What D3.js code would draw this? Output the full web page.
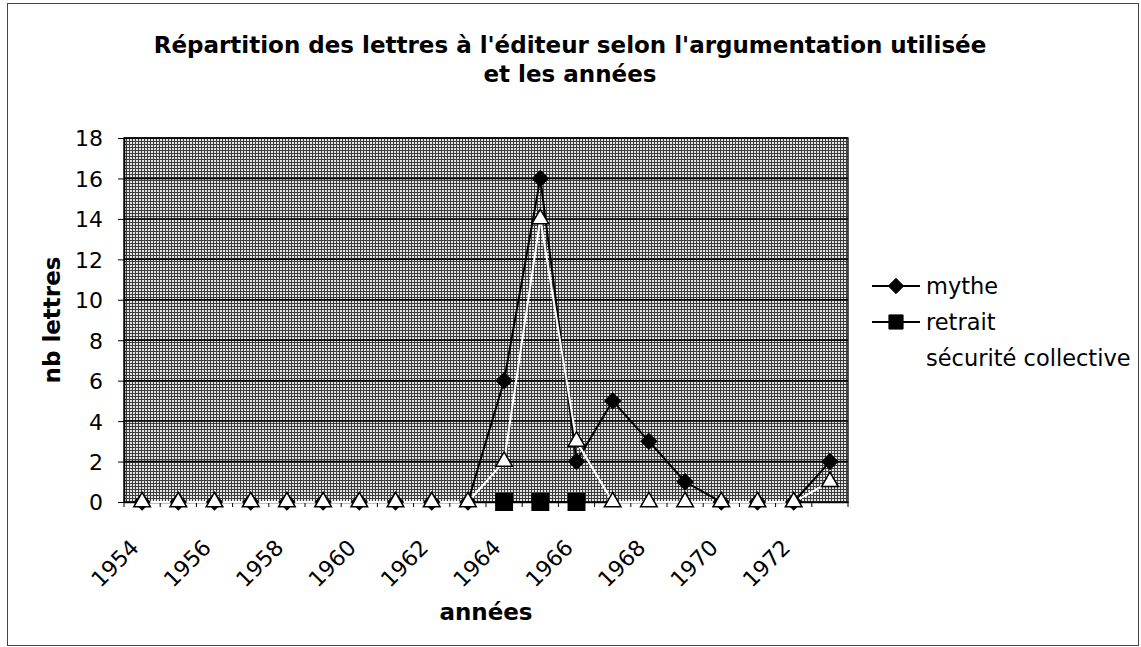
<!DOCTYPE html>
<html>
  <head>
    <meta charset="utf-8">
    <title>Répartition des lettres</title>
    <script src="https://d3js.org/d3.v7.min.js"></script>
    <style>
      body { margin: 0; background: #fff; }
      text { font-family: "DejaVu Sans", Verdana, sans-serif; fill: #000; }
      .title { font-weight: bold; font-size: 23px; }
      .axis-title { font-weight: bold; font-size: 23px; }
      .tick text { font-size: 22px; }
      .legend text { font-size: 22.5px; }
    </style>
  </head>
  <body>
    <script>
      // data
      var years = ["1954","1955","1956","1957","1958","1959","1960","1961","1962","1963",
                   "1964","1965","1966","1967","1968","1969","1970","1971","1972","1973"];
      var mythe   = [0,0,0,0,0,0,0,0,0,0, 6,16,2,5,3,1,0,0,0,2];
      var retrait = [null,null,null,null,null,null,null,null,null,null,
                     0,0,0,null,null,null,null,null,null,null];
      var securite = [0,0,0,0,0,0,0,0,0,0, 2,14,3,0,0,0,0,0,0,1];
      var yTicks = [0,2,4,6,8,10,12,14,16,18];
      var xLabels = ["1954","1956","1958","1960","1962","1964","1966","1968","1970","1972"];
      var seriesNames = ["mythe", "retrait", "sécurité collective"];

      var width = 1141, height = 647;
      var plot = {left: 124, right: 848, top: 138, bottom: 502};

      var svg = d3.select("body").append("svg")
          .attr("width", width)
          .attr("height", height);

      // halftone-like grey fill of the scanned plot area
      var pat = svg.append("defs").append("pattern")
        .attr("id", "dither")
        .attr("patternUnits", "userSpaceOnUse")
        .attr("width", 3).attr("height", 3);
      pat.append("rect").attr("width", 3).attr("height", 3).attr("fill", "#e4e4e4");
      pat.append("rect").attr("width", 3).attr("height", 1).attr("fill", "#3c3c3c");
      pat.append("rect").attr("width", 1).attr("height", 3).attr("fill", "#3c3c3c");

      // outer frame
      svg.append("rect")
        .attr("x", 7.5).attr("y", 3.5)
        .attr("width", 1131).attr("height", 642)
        .attr("fill", "none")
        .attr("stroke", "#444")
        .attr("stroke-width", 1);

      var x = d3.scaleBand().domain(years).range([plot.left, plot.right]).padding(0);
      var y = d3.scaleLinear().domain([0, 18]).range([plot.bottom, plot.top]);
      var cx = function(yr) { return x(yr) + x.bandwidth() / 2; };

      svg.append("rect")
        .attr("x", plot.left).attr("y", plot.top)
        .attr("width", plot.right - plot.left)
        .attr("height", plot.bottom - plot.top)
        .attr("fill", "url(#dither)")
        .attr("stroke", "#222")
        .attr("stroke-width", 1.5);

      // gridlines
      svg.append("g").selectAll("line")
        .data(yTicks.filter(function(d) { return d > 0; }))
        .enter().append("line")
        .attr("x1", plot.left).attr("x2", plot.right)
        .attr("y1", function(d) { return y(d); })
        .attr("y2", function(d) { return y(d); })
        .attr("stroke", "#000")
        .attr("stroke-width", 1.5);

      // y axis
      var yAxis = d3.axisLeft(y).tickValues(yTicks).tickSizeInner(6).tickSizeOuter(0).tickPadding(15);
      var gy = svg.append("g")
        .attr("transform", "translate(" + plot.left + ",0)")
        .call(yAxis);
      gy.select(".domain").attr("stroke", "#000").attr("stroke-width", 1.5);
      gy.selectAll(".tick line").attr("stroke", "#000");
      gy.selectAll(".tick text").attr("dy", "0.36em");

      // x axis
      var xAxis = d3.axisBottom(x).tickSize(0).tickFormat(function(d) {
        return xLabels.indexOf(d) >= 0 ? d : "";
      });
      var gx = svg.append("g")
        .attr("transform", "translate(0," + plot.bottom + ")")
        .call(xAxis);
      gx.select(".domain").attr("stroke", "#000").attr("stroke-width", 1.5);
      gx.selectAll(".tick text")
        .attr("text-anchor", "end")
        .attr("x", 0).attr("y", 0).attr("dy", 0)
        .attr("transform", "translate(-2,47) rotate(-45)");

      // small tick marks between categories
      svg.append("g").selectAll("line")
        .data(years.concat(["end"]))
        .enter().append("line")
        .attr("x1", function(d, i) { return plot.left + i * x.bandwidth(); })
        .attr("x2", function(d, i) { return plot.left + i * x.bandwidth(); })
        .attr("y1", plot.bottom).attr("y2", plot.bottom + 5)
        .attr("stroke", "#000");

      // lines
      function lineFor(values) {
        return d3.line()
          .defined(function(d) { return d != null; })
          .x(function(d, i) { return cx(years[i]); })
          .y(function(d) { return y(d); })(values);
      }
      svg.append("path").attr("d", lineFor(mythe))
        .attr("fill", "none").attr("stroke", "#000").attr("stroke-width", 2);
      svg.append("path").attr("d", lineFor(retrait))
        .attr("fill", "none").attr("stroke", "#000").attr("stroke-width", 2);
      svg.append("path").attr("d", lineFor(securite))
        .attr("fill", "none").attr("stroke", "#fff").attr("stroke-width", 2);

      var diamond = d3.symbol().type(d3.symbolDiamond2).size(150);
      var square = d3.symbol().type(d3.symbolSquare).size(270);
      var triangle = d3.symbol().type(d3.symbolTriangle).size(120);

      function markers(values, sym, fill, stroke) {
        svg.append("g").selectAll("path")
          .data(values.map(function(v, i) { return {v: v, yr: years[i]}; })
            .filter(function(d) { return d.v != null; }))
          .enter().append("path")
          .attr("d", sym)
          .attr("transform", function(d) {
            return "translate(" + cx(d.yr) + "," + y(d.v) + ")";
          })
          .attr("fill", fill)
          .attr("stroke", stroke)
          .attr("stroke-width", 1.5);
      }
      markers(mythe, diamond, "#000", "#000");
      markers(retrait, square, "#000", "#000");
      markers(securite, triangle, "#fff", "#000");

      // axis titles
      svg.append("text")
        .attr("class", "axis-title")
        .attr("text-anchor", "middle")
        .attr("x", (plot.left + plot.right) / 2)
        .attr("y", 620)
        .text("années");
      svg.append("text")
        .attr("class", "axis-title")
        .attr("text-anchor", "middle")
        .attr("transform", "translate(60," + ((plot.top + plot.bottom) / 2) + ") rotate(-90)")
        .text("nb lettres");

      // title
      var title = svg.append("text")
        .attr("class", "title")
        .attr("text-anchor", "middle");
      title.append("tspan").attr("x", 570).attr("y", 53)
        .text("Répartition des lettres à l'éditeur selon l'argumentation utilisée");
      title.append("tspan").attr("x", 570).attr("y", 82)
        .text("et les années");

      // legend
      var legend = svg.append("g").attr("class", "legend");
      var legSyms = [diamond, d3.symbol().type(d3.symbolSquare).size(200), triangle];
      var legColors = ["#000", "#000", "#fff"];
      seriesNames.forEach(function(name, i) {
        var ly = 286 + i * 36;
        legend.append("line")
          .attr("x1", 872).attr("x2", 920)
          .attr("y1", ly).attr("y2", ly)
          .attr("stroke", legColors[i]).attr("stroke-width", 2);
        legend.append("path")
          .attr("d", legSyms[i])
          .attr("transform", "translate(896," + ly + ")")
          .attr("fill", legColors[i])
          .attr("stroke", legColors[i]);
        legend.append("text")
          .attr("x", 926).attr("y", ly)
          .attr("dy", "0.35em")
          .text(name);
      });
    </script>
  </body>
</html>
